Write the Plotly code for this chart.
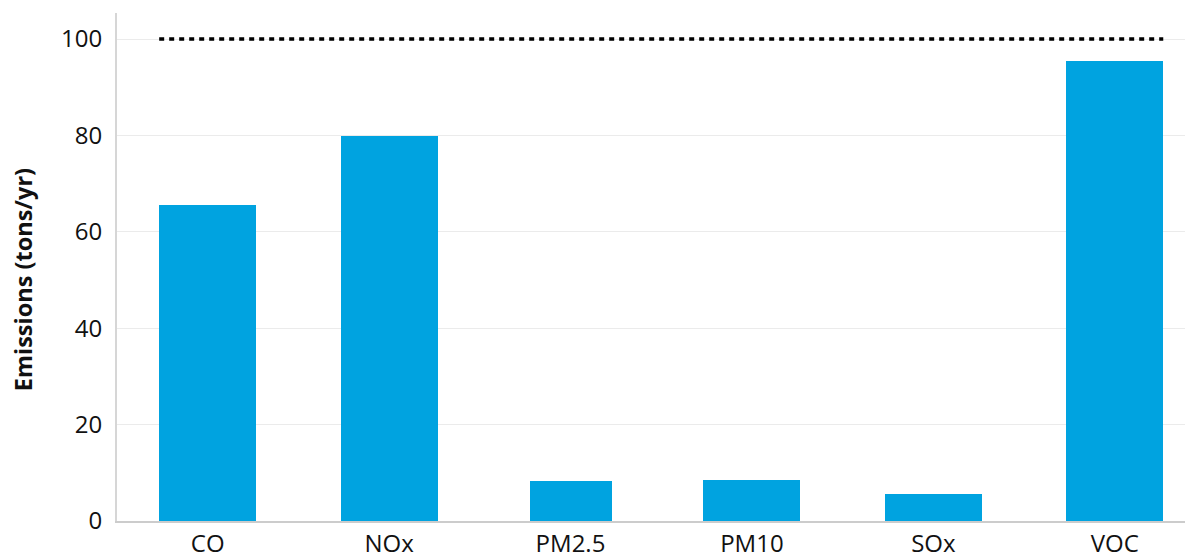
import plotly.graph_objects as go

pollutants = ['CO', 'NOx', 'PM2.5', 'PM10', 'SOx', 'VOC']
emissions = [65.6, 79.9, 8.3, 8.5, 5.6, 95.4]
limit = 100
y_ticks = [0, 20, 40, 60, 80, 100]

# bar widths in category units (PM2.5 is drawn narrower in the source)
bar_widths = [0.535, 0.535, 0.452, 0.535, 0.535, 0.535]
font = 'Open Sans, Noto Sans, sans-serif'

fig = go.Figure()
fig.add_trace(go.Bar(
    x=list(range(len(pollutants))),
    y=emissions,
    width=bar_widths,
    marker_color='#00A3E0',
    marker_line_width=0,
))

# threshold line spans first bar's left edge to last bar's right edge
fig.add_shape(
    type='line', xref='x', yref='y',
    x0=-bar_widths[0] / 2, x1=len(pollutants) - 1 + bar_widths[-1] / 2,
    y0=limit, y1=limit,
    line=dict(color='black', width=3.5, dash='5px,5px'),
)

fig.add_annotation(
    text='<b>Emissions (tons/yr)</b>',
    xref='paper', yref='paper', x=-0.0874, y=0.474,
    xanchor='center', yanchor='middle',
    textangle=-90, showarrow=False,
    font=dict(size=23.5, color='#111'),
)

fig.update_layout(
    width=1185, height=551,
    margin=dict(l=109, r=1, t=5, b=38),
    plot_bgcolor='white', paper_bgcolor='white',
    showlegend=False,
    font=dict(family=font, size=24, color='#111'),
    bargap=0,
)
fig.update_xaxes(
    tickmode='array', tickvals=list(range(len(pollutants))), ticktext=pollutants,
    range=[-0.5, 5.426],
    showline=True, linecolor='#cccccc', linewidth=2,
    showgrid=False, ticks='', ticklen=0,
    tickfont=dict(size=24),
    ticklabelstandoff=0,
)
fig.update_yaxes(
    range=[0, 105.4],
    tickvals=y_ticks,
    showline=True, linecolor='#d6d6d6', linewidth=2,
    showgrid=True, gridcolor='#ebebeb', gridwidth=1,
    zeroline=False,
    ticks='', ticklabelstandoff=8,
    tickfont=dict(size=24),
)

fig.write_html("out.html")
